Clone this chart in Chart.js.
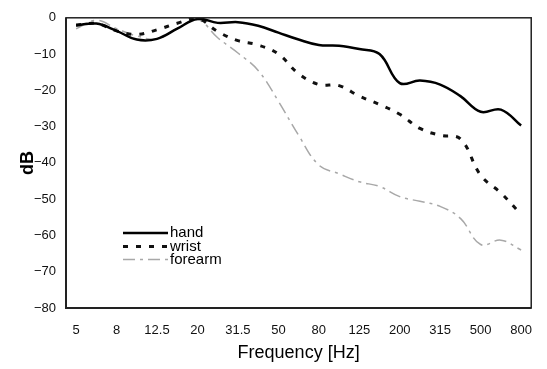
<!DOCTYPE html>
<html>
<head>
<meta charset="utf-8">
<script src="https://cdn.jsdelivr.net/npm/chart.js@4.4.1/dist/chart.umd.min.js"></script>
<style>
  html, body { margin: 0; padding: 0; background: #fff; }
  #wrap { width: 547px; height: 369px; position: relative; }
</style>
</head>
<body>
<div id="wrap"><canvas id="c" width="547" height="369"></canvas></div>
<script>
const freqLabels = ['5','6.3','8','10','12.5','16','20','25','31.5','40','50','63','80','100','125','160','200','250','315','400','500','630','800'];
const shownTicks = ['5','8','12.5','20','31.5','50','80','125','200','315','500','800'];
const handValues = [-2.1,-1.6,-3.6,-6.0,-5.8,-3.0,-0.3,-1.4,-1.2,-2.2,-4.1,-6.0,-7.5,-7.7,-8.6,-10.0,-18.0,-17.3,-18.4,-21.6,-25.9,-25.3,-29.7];
const wristValues = [-2.0,-1.6,-3.6,-4.6,-3.3,-1.5,-0.2,-3.8,-6.3,-7.5,-10.0,-15.4,-18.4,-18.7,-21.6,-23.9,-26.6,-30.5,-32.4,-33.4,-43.4,-48.3,-54.2];
const forearmValues = [-3.0,-0.7,-3.0,-5.0,-5.8,-3.0,-0.5,-5.5,-9.7,-14.5,-23.0,-32.4,-40.6,-43.0,-45.2,-46.5,-49.3,-50.6,-52.0,-55.3,-62.5,-61.3,-64.0];
const seriesNames = ['hand','wrist','forearm'];

const framePlugin = {
  id: 'frame',
  afterDraw(chart) {
    const {ctx, chartArea: a} = chart;
    ctx.save();
    ctx.strokeStyle = '#222';
    ctx.lineWidth = 1.5;
    ctx.strokeRect(a.left, a.top, a.right - a.left, a.bottom - a.top);
    ctx.lineWidth = 2;
    ctx.beginPath();
    ctx.moveTo(a.left, a.top); ctx.lineTo(a.left, a.bottom); ctx.lineTo(a.right, a.bottom);
    ctx.stroke();
    ctx.restore();
  }
};

const legendPlugin = {
  id: 'innerLegend',
  afterDraw(chart) {
    const ctx = chart.ctx;
    const rows = [233, 246.5, 259.5];
    ctx.save();
    chart.data.datasets.forEach((ds, i) => {
      const y = rows[i];
      ctx.strokeStyle = ds.borderColor;
      ctx.lineWidth = ds.borderWidth;
      ctx.setLineDash(ds.borderDash || []);
      ctx.beginPath();
      ctx.moveTo(123, y); ctx.lineTo(168, y);
      ctx.stroke();
      ctx.setLineDash([]);
      ctx.fillStyle = '#000';
      ctx.font = '15px "Liberation Sans", Arial, sans-serif';
      ctx.textBaseline = 'middle';
      ctx.textAlign = 'left';
      ctx.fillText(ds.label, 170, y);
    });
    ctx.restore();
  }
};

new Chart(document.getElementById('c'), {
  type: 'line',
  data: {
    labels: freqLabels,
    datasets: [
      { label: seriesNames[0], data: handValues, borderColor: '#000', borderWidth: 2.5, pointRadius: 0, tension: 0.4, fill: false },
      { label: seriesNames[1], data: wristValues, borderColor: '#111', borderWidth: 3, borderDash: [5, 8], pointRadius: 0, tension: 0.4, fill: false },
      { label: seriesNames[2], data: forearmValues, borderColor: '#a8a8a8', borderWidth: 1.5, borderDash: [12, 5, 3, 5], pointRadius: 0, tension: 0.4, fill: false }
    ]
  },
  options: {
    responsive: false,
    animation: false,
    layout: { padding: { top: 13, right: 2, left: 0, bottom: 0 } },
    plugins: { legend: { display: false }, tooltip: { enabled: false } },
    scales: {
      x: {
        type: 'category',
        offset: true,
        grid: { display: false, drawTicks: false },
        border: { display: false },
        afterFit(scale) { scale.height = 61; },
        ticks: {
          autoSkip: false, maxRotation: 0, padding: 15, color: '#111',
          font: { family: '"Liberation Sans", Arial, sans-serif', size: 13 },
          callback: function(v, i) { const l = freqLabels[i]; return shownTicks.includes(l) ? l : ''; }
        },
        title: { display: true, text: 'Frequency [Hz]', color: '#000', padding: { top: 0, bottom: 5 },
          font: { family: '"Liberation Sans", Arial, sans-serif', size: 18 } }
      },
      y: {
        min: -80, max: 0,
        grid: { display: false, drawTicks: false },
        border: { display: false },
        afterFit(scale) { scale.width = 66; },
        ticks: {
          stepSize: 10, padding: 10, color: '#111',
          font: { family: '"Liberation Sans", Arial, sans-serif', size: 13 },
          callback: v => v < 0 ? '\u2212' + Math.abs(v) : String(v)
        },
        title: { display: true, text: 'dB', color: '#000', padding: { top: 17, bottom: 0 },
          font: { family: '"Liberation Sans", Arial, sans-serif', size: 18, weight: 'bold' } }
      }
    }
  },
  plugins: [framePlugin, legendPlugin]
});
</script>
</body>
</html>
